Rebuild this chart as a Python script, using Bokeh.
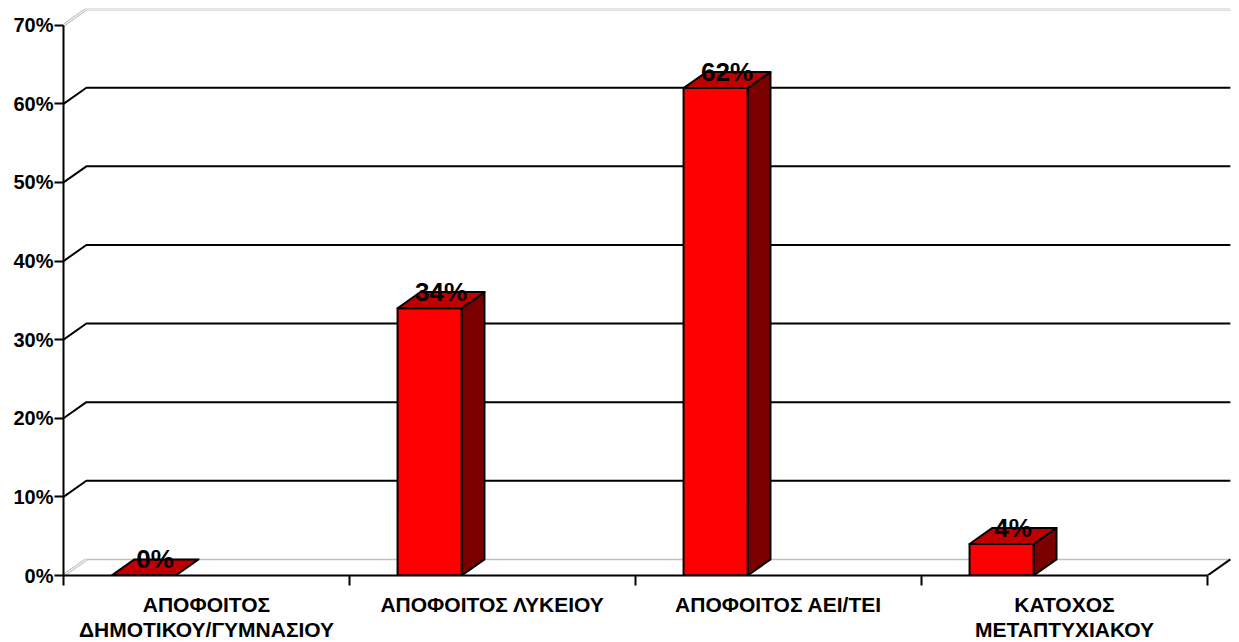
from bokeh.plotting import figure
from bokeh.models import FixedTicker, PrintfTickFormatter, Range1d, ColumnDataSource
from bokeh.core.properties import value
from bokeh.embed import file_html
from bokeh.resources import INLINE

# ---- data ----
categories = ["ΑΠΟΦΟΙΤΟΣ\nΔΗΜΟΤΙΚΟΥ/ΓΥΜΝΑΣΙΟΥ", "ΑΠΟΦΟΙΤΟΣ ΛΥΚΕΙΟΥ",
              "ΑΠΟΦΟΙΤΟΣ ΑΕΙ/ΤΕΙ", "ΚΑΤΟΧΟΣ\nΜΕΤΑΠΤΥΧΙΑΚΟΥ"]
values = [0, 34, 62, 4]
value_labels = ["0%", "34%", "62%", "4%"]
y_ticks = [0, 10, 20, 30, 40, 50, 60, 70]

# ---- geometry (style) ----
DX = 0.080      # 3-D depth in category units
DY = 2.05       # 3-D depth in percent units
OFF = 0.168     # bar left offset inside category
BW = 0.224      # bar width
FONT = "Liberation Sans"

FRAME_W, FRAME_H = 1168, 567
PX_PER_CAT, PX_PER_PCT = 286.0, 7.861

p = figure(width=1239, height=642, frame_width=FRAME_W, frame_height=FRAME_H,
           output_backend="svg", toolbar_location=None,
           x_range=Range1d(-0.5, -0.5 + FRAME_W / PX_PER_CAT),
           y_range=Range1d(0, FRAME_H / PX_PER_PCT),
           min_border_left=63, min_border_right=8, min_border_top=8, min_border_bottom=67)
p.outline_line_color = None
p.xgrid.visible = False
p.ygrid.visible = False
p.background_fill_color = "white"
p.border_fill_color = "white"

n = len(categories)
xl = -0.5
xr = n - 0.5

# walls: floor and top (light gray), back gridlines (black)
gray = "#c0c0c0"
p.line([xl + DX, xr + DX], [DY, DY], line_color=gray, line_width=1.5)
p.line([xl, xl + DX], [0, DY], line_color=gray, line_width=3)
p.line([xl, xl + DX], [0, DY], line_color="white", line_width=1)
top = y_ticks[-1]
p.line([xl, xl + DX, xr + DX], [top, top + DY, top + DY], line_color=gray, line_width=3)
p.line([xl, xl + DX, xr + DX], [top, top + DY, top + DY], line_color="white", line_width=1)

gx, gy = [], []
for t in y_ticks[1:-1]:
    gx.append([xl, xl + DX, xr + DX])
    gy.append([t, t + DY, t + DY])
p.multi_line(gx, gy, line_color="black", line_width=2)
p.line([xr, xr + DX], [0, DY], line_color="black", line_width=2)

# bars
front_x, front_y, top_x, top_y, side_x, side_y = [], [], [], [], [], []
for i, v in enumerate(values):
    x0 = i - 0.5 + OFF
    x1 = x0 + BW
    top_x.append([x0, x1, x1 + DX, x0 + DX])
    top_y.append([v, v, v + DY, v + DY])
    if v > 0:
        front_x.append([x0, x1, x1, x0])
        front_y.append([0, 0, v, v])
        side_x.append([x1, x1 + DX, x1 + DX, x1])
        side_y.append([0, DY, v + DY, v])

p.patches(side_x, side_y, fill_color="#7a0000", line_color="black", line_width=2, line_join="round")
p.patches(front_x, front_y, fill_color="#ff0000", line_color="black", line_width=2, line_join="round")
p.patches(top_x, top_y, fill_color="#c00000", line_color="black", line_width=2, line_join="round")

# value labels
lab_src = ColumnDataSource(dict(
    x=[i - 0.5 + OFF + (BW + DX) / 2 for i in range(n)],
    y=[v + 2.1 for v in values],
    t=value_labels))
p.text(x="x", y="y", text="t", source=lab_src, text_font=value(FONT), text_font_style="bold",
       text_font_size="26px", text_align="center", text_baseline="alphabetic", text_color="black")

# y axis
ya = p.yaxis[0]
ya.ticker = FixedTicker(ticks=y_ticks, minor_ticks=[])
ya.formatter = PrintfTickFormatter(format="%d%%")
ya.bounds = (0, top)
ya.axis_line_width = 2
ya.axis_line_color = "black"
ya.major_tick_line_width = 2
ya.major_tick_out = 9
ya.major_tick_in = 0
ya.minor_tick_line_color = None
ya.major_label_standoff = 1
ya.major_label_text_font = FONT
ya.major_label_text_font_style = "bold"
ya.major_label_text_font_size = "20px"
ya.major_label_text_color = "black"

# x axis
xa = p.xaxis[0]
xa.ticker = FixedTicker(ticks=list(range(n)), minor_ticks=[xl + k for k in range(n + 1)])
xa.major_label_overrides = {i: c for i, c in enumerate(categories)}
xa.bounds = (xl, xr)
xa.axis_line_width = 2
xa.axis_line_color = "black"
xa.major_tick_out = 0
xa.major_tick_in = 0
xa.major_tick_line_color = None
xa.minor_tick_out = 10
xa.minor_tick_in = 0
xa.minor_tick_line_width = 2
xa.minor_tick_line_color = "black"
xa.major_label_standoff = 7
xa.major_label_text_font = FONT
xa.major_label_text_font_style = "bold"
xa.major_label_text_font_size = "21px"
xa.major_label_text_color = "black"
xa.major_label_text_line_height = 1.12

open("out.html", "w").write(file_html(p, INLINE))
